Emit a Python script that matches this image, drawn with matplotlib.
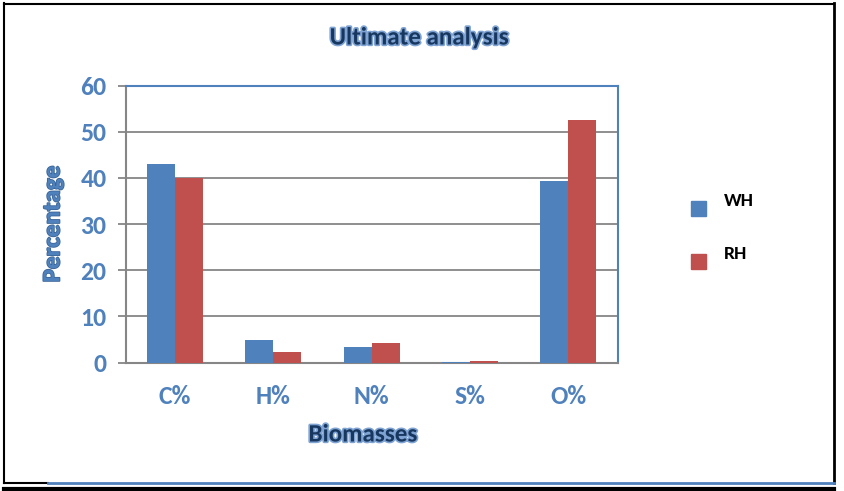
import matplotlib
matplotlib.use("Agg")
import matplotlib.pyplot as plt
import matplotlib.patheffects as pe
from matplotlib.lines import Line2D
from matplotlib.patches import Rectangle
import numpy as np

categories = ["C%", "H%", "N%", "S%", "O%"]
wh_values = [43.1, 4.9, 3.4, 0.2, 39.4]
rh_values = [40.0, 2.3, 4.3, 0.4, 52.6]
series_names = ["WH", "RH"]
yticks = [0, 10, 20, 30, 40, 50, 60]

BLUE = "#4F81BD"
RED = "#C0504D"
NAVY = "#17375E"
GRAY = "#868686"
FONT = "Carlito"

plt.rcParams["font.family"] = [FONT, "DejaVu Sans"]
plt.rcParams["font.weight"] = "bold"

W, H = 844, 491
fig = plt.figure(figsize=(W / 100, H / 100), dpi=100)

def fx(px):
    return px / W

def fy(py):
    return 1 - py / H

left, right, top, bottom = 126, 617.5, 85.7, 362.5
ax = fig.add_axes([fx(left), fy(bottom), fx(right - left), (bottom - top) / H])

x = np.arange(len(categories))
bw = 0.285
ax.bar(x - bw / 2, wh_values, bw, color=BLUE, zorder=3)
ax.bar(x + bw / 2, rh_values, bw, color=RED, zorder=3)

ax.set_xlim(-0.5, len(categories) - 0.5)
ax.set_ylim(0, 60)
ax.set_yticks(yticks)
ax.set_yticklabels([str(v) for v in yticks], fontweight="bold", family=FONT)
ax.set_xticks(x)
ax.set_xticklabels(categories, fontweight="bold", family=FONT)
ax.yaxis.grid(True, color=GRAY, linewidth=1.3, zorder=0)
ax.set_axisbelow(True)

for s in ["left", "bottom"]:
    ax.spines[s].set_color(GRAY)
    ax.spines[s].set_linewidth(1.5)
for s in ["top", "right"]:
    ax.spines[s].set_color(BLUE)
    ax.spines[s].set_linewidth(1.5)

ax.tick_params(axis="y", length=6, width=1.3, color=GRAY, pad=8,
               labelsize=18.5, labelcolor=BLUE)
ax.tick_params(axis="x", length=0, pad=16, labelsize=18.5, labelcolor=BLUE)

glow = [pe.withStroke(linewidth=2.4, foreground="#7FA3D3")]
fig.text(fx(419), fy(38), "Ultimate analysis", ha="center", va="center",
         fontsize=18, fontweight="bold", family=FONT, color=NAVY,
         path_effects=glow)
fig.text(fx(363), fy(435), "Biomasses", ha="center", va="center",
         fontsize=18, fontweight="bold", family=FONT, color=NAVY,
         path_effects=glow)
fig.text(fx(53), fy(224), "Percentage", ha="center", va="center",
         rotation=90, fontsize=18, fontweight="bold", family=FONT,
         color=BLUE, path_effects=[pe.withStroke(linewidth=1.2, foreground="#3A6597")])

# legend
for i, (name, col) in enumerate(zip(series_names, [BLUE, RED])):
    ytop = 201 + i * 53
    fig.patches.append(Rectangle((fx(691), fy(ytop + 15)), 15 / W, 15 / H,
                                 transform=fig.transFigure, color=col))
    fig.text(fx(724), fy(ytop), name, ha="left", va="center",
             fontsize=14, fontweight="bold", family=FONT, color="black")

# frame
def hline(x0, x1, y, col, lw):
    fig.lines.append(Line2D([fx(x0), fx(x1)], [fy(y), fy(y)],
                            transform=fig.transFigure, color=col, linewidth=lw))

def vline(x, y0, y1, col, lw):
    fig.lines.append(Line2D([fx(x), fx(x)], [fy(y0), fy(y1)],
                            transform=fig.transFigure, color=col, linewidth=lw))

vline(4, 3, 483, "black", 1.5)
vline(834, 3, 483, "black", 2)
hline(4, 834, 3.5, "black", 1.5)
hline(4, 48, 483, "black", 1.5)
hline(48, 834, 483, BLUE, 2)
hline(4, 834, 488.5, "black", 3)

fig.savefig("out.png", dpi=100)
